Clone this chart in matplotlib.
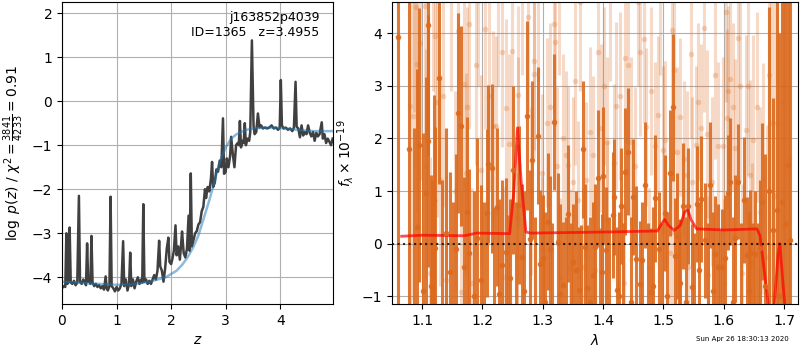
'''
Redshift fit summary: log p(z) and the 1D grism spectrum with best-fit model
'''

import numpy as np
from matplotlib import pyplot as plt

# --- p(z) curve ---
zgrid = [0.00, 0.03, 0.06, 0.08, 0.10, 0.12, 0.14, 0.16, 0.19, 0.22, 0.25, 0.28, 0.31, 0.33,
         0.36, 0.39, 0.42, 0.44, 0.46, 0.48, 0.50, 0.52, 0.54, 0.56, 0.59, 0.62, 0.65, 0.68,
         0.71, 0.74, 0.77, 0.80, 0.82, 0.84, 0.87, 0.89, 0.91, 0.94, 0.97, 1.00, 1.03, 1.06,
         1.09, 1.12, 1.14, 1.17, 1.20, 1.23, 1.25, 1.27, 1.30, 1.33, 1.36, 1.39, 1.42, 1.45,
         1.47, 1.49, 1.51, 1.54, 1.57, 1.60, 1.63, 1.66, 1.69, 1.72, 1.75, 1.78, 1.80, 1.83,
         1.86, 1.89, 1.92, 1.95, 1.97, 2.00, 2.02, 2.05, 2.08, 2.10, 2.13, 2.16, 2.18, 2.20,
         2.23, 2.26, 2.29, 2.32, 2.34, 2.36, 2.38, 2.41, 2.44, 2.47, 2.50, 2.53, 2.56, 2.59,
         2.62, 2.64, 2.67, 2.70, 2.73, 2.75, 2.77, 2.80, 2.83, 2.86, 2.89, 2.92, 2.95, 2.97,
         3.00, 3.02, 3.05, 3.08, 3.10, 3.13, 3.16, 3.19, 3.22, 3.24, 3.26, 3.28, 3.31, 3.33,
         3.35, 3.37, 3.40, 3.43, 3.45, 3.48, 3.51, 3.53, 3.56, 3.59, 3.62, 3.65, 3.68, 3.72,
         3.76, 3.80, 3.84, 3.88, 3.92, 3.96, 3.99, 4.01, 4.03, 4.06, 4.10, 4.14, 4.18, 4.22,
         4.25, 4.28, 4.30, 4.33, 4.36, 4.39, 4.42, 4.45, 4.48, 4.51, 4.54, 4.57, 4.60, 4.63,
         4.66, 4.69, 4.72, 4.76, 4.78, 4.81, 4.84, 4.87, 4.90, 4.93, 4.96]
logpz = [-4.25, -4.20, -4.22, -3.00, -4.15, -4.10, -2.87, -4.12, -4.15, -4.08, -4.18, -4.12, -2.15, -4.10,
         -4.15, -4.05, -4.12, -4.18, -3.23, -4.10, -4.02, -4.15, -3.06, -4.12, -4.20, -4.15, -4.22, -4.18,
         -4.25, -4.20, -4.28, -3.98, -4.25, -4.30, -4.20, -2.17, -4.20, -4.25, -4.32, -4.22, -4.30, -4.25,
         -4.15, -3.18, -4.20, -4.05, -4.30, -4.15, -3.44, -4.20, -4.05, -4.25, -4.10, -4.00, -4.15, -4.05,
         -4.12, -2.34, -4.10, -4.05, -4.15, -4.08, -4.15, -4.05, -3.95, -4.05, -3.85, -3.17, -3.75, -3.85,
         -4.10, -3.80, -3.35, -3.10, -3.65, -3.70, -3.60, -3.40, -2.82, -3.50, -3.30, -3.60, -3.30, -2.96,
         -3.45, -3.55, -3.35, -2.60, -3.40, -1.64, -3.30, -3.15, -3.00, -2.95, -2.80, -2.75, -2.50, -2.40,
         -2.00, -2.20, -1.95, -2.05, -1.75, -1.38, -1.95, -1.85, -1.55, -1.60, -1.35, -1.50, -0.39, -1.65,
         -1.60, -1.30, -1.50, -1.25, -0.81, -1.20, -1.50, -1.00, -0.95, -1.00, -0.45, -1.05, -0.90, -0.95,
         -0.50, -1.00, -0.85, -0.90, -0.70, 1.38, -0.55, -0.75, -0.70, -0.28, -0.60, -0.55, -0.62, -0.60,
         -0.62, -0.60, -0.55, -0.62, -0.60, -0.65, -0.60, 0.48, -0.55, -0.62, -0.60, -0.65, -0.62, -0.68,
         -0.60, 0.44, -0.58, -0.62, -0.82, -0.55, -0.78, -0.70, -0.75, -0.55, -0.72, -0.80, -0.70, -0.90,
         -0.72, -0.80, -0.75, -0.48, -0.85, -0.75, -0.95, -0.85, -0.92, -1.00, -0.85]

# smoothed envelope of p(z)
zsmooth = [0.0, 0.5, 1.0, 1.3, 1.6, 1.9, 2.1, 2.2, 2.3, 2.4, 2.5, 2.55, 2.6, 2.7, 2.8,
           2.85, 2.9, 3.0, 3.1, 3.2, 3.35, 3.5, 3.7, 3.9, 4.1, 4.3, 4.6, 4.97]
logp_smooth = [-4.10, -4.14, -4.17, -4.16, -4.10, -4.00, -3.85, -3.72, -3.55, -3.33, -3.05, -2.85,
               -2.65, -2.25, -1.80, -1.55, -1.35, -1.05, -0.85, -0.75, -0.66, -0.62, -0.60, -0.60,
               -0.62, -0.65, -0.68, -0.68]

# --- spectrum, first PA ---
wave_a = [1.060, 1.078, 1.092, 1.095, 1.106, 1.109, 1.110, 1.114, 1.120, 1.122, 1.128, 1.146,
          1.156, 1.160, 1.165, 1.170, 1.175, 1.178, 1.197, 1.207, 1.209, 1.215, 1.224, 1.232,
          1.239, 1.246, 1.251, 1.261, 1.265, 1.274, 1.279, 1.282, 1.292, 1.295, 1.301, 1.309,
          1.312, 1.318, 1.325, 1.333, 1.342, 1.350, 1.360, 1.366, 1.370, 1.374, 1.387, 1.392,
          1.398, 1.400, 1.405, 1.416, 1.418, 1.423, 1.430, 1.436, 1.442, 1.450, 1.461, 1.465,
          1.469, 1.479, 1.486, 1.492, 1.503, 1.510, 1.515, 1.519, 1.522, 1.528, 1.533, 1.541,
          1.547, 1.555, 1.563, 1.569, 1.577, 1.586, 1.591, 1.597, 1.602, 1.607, 1.611, 1.619,
          1.624, 1.633, 1.638, 1.644, 1.652, 1.660, 1.664, 1.682, 1.688, 1.696, 1.702, 1.710,
          # pixels sitting near or below the lower limit
          1.086, 1.101, 1.117, 1.133, 1.139, 1.151, 1.186, 1.191, 1.202, 1.219, 1.228, 1.242,
          1.256, 1.269, 1.287, 1.304, 1.315, 1.329, 1.338, 1.346, 1.355, 1.363, 1.378, 1.383,
          1.395, 1.410, 1.427, 1.433, 1.446, 1.455, 1.474, 1.482, 1.497, 1.506, 1.525, 1.537,
          1.551, 1.559, 1.573, 1.582, 1.594, 1.615, 1.628, 1.641, 1.648, 1.656, 1.668, 1.675,
          1.692, 1.706]
flux_a = [3.92, 1.80, 0.31, 1.88, 0.96, 1.95, 4.16, -0.80, 0.83, -0.09, 3.14, -0.53,
          -0.10, 2.48, 2.23, -0.44, 0.61, -0.18, -0.69, 0.58, 1.51, 1.43, 0.70, -0.40,
          -0.15, -0.66, 1.40, 0.74, -0.26, 2.43, 0.09, 1.59, 2.05, -0.38, -0.28, 0.42,
          -0.11, 2.31, 0.04, -0.78, 0.57, -0.34, -0.88, 1.79, -0.07, -0.85, -0.07, 1.24,
          -0.53, 1.29, -0.13, 0.55, 0.89, -0.89, 0.71, 1.37, 1.75, 0.89, -0.77, -0.31,
          1.12, -0.91, 0.86, -0.11, 0.58, 1.34, 2.59, -0.23, 0.15, -0.74, 0.72, 0.72,
          -0.82, 0.76, 0.85, 0.06, 1.12, -0.20, -0.44, -0.44, -0.28, 0.97, 1.18, 0.10,
          1.18, 0.83, -0.21, -0.18, -0.20, -0.09, 0.80, 0.26, 0.63, 0.80, 0.38, 0.06,
          -1.30, -0.90, -1.40, -1.20, 0.20, -1.30, -1.00, 0.10, -1.40, -1.20, -0.95, -1.35,
          -1.20, -0.90, -1.30, -1.10, -1.40, -0.95, -1.30, -1.20, -0.50, -1.35, -1.10, -0.60,
          -1.30, -1.20, -1.00, -1.30, -1.10, -0.30, -1.20, -0.80, -1.30, -1.00, -1.25, -1.10,
          -1.30, -0.50, -1.20, -0.90, -1.35, -1.10, -1.30, -0.90, -1.20, -1.40, -0.80, 1.00,
          -1.00, 1.50]
err_a = [9.0, 6.0, 3.0, 2.6, 2.2, 2.4, 2.5, 2.1, 2.0, 2.3, 2.0, 1.9,
         1.8, 1.9, 1.9, 1.7, 1.8, 1.6, 1.8, 1.6, 1.5, 1.6, 1.5, 1.6,
         1.4, 1.5, 1.6, 1.5, 1.4, 1.8, 1.3, 1.5, 1.3, 1.4, 1.2, 1.3,
         1.4, 1.3, 1.3, 1.2, 1.3, 1.1, 1.2, 1.3, 1.2, 1.2, 1.2, 1.3,
         1.1, 1.3, 1.2, 1.2, 1.1, 1.2, 1.1, 1.2, 1.2, 1.1, 1.2, 1.1,
         1.2, 1.2, 1.2, 1.1, 1.1, 1.2, 1.4, 1.1, 1.2, 1.2, 1.2, 1.1,
         1.2, 1.1, 1.2, 1.1, 1.2, 1.1, 1.2, 1.1, 1.2, 1.1, 1.2, 1.2,
         1.1, 1.2, 1.1, 1.2, 1.2, 1.3, 1.5, 2.5, 4.0, 7.0, 9.0, 9.0,
         3.5, 3.0, 2.6, 2.4, 2.0, 2.1, 2.0, 1.9, 2.2, 1.9, 1.8, 1.9,
         2.0, 1.9, 1.8, 1.7, 1.8, 1.7, 1.8, 1.6, 1.5, 1.7, 1.6, 1.4,
         1.6, 1.7, 1.6, 1.7, 1.6, 1.4, 1.6, 1.5, 1.7, 1.6, 1.7, 1.6,
         1.5, 1.3, 1.6, 1.5, 1.6, 1.6, 1.7, 1.5, 1.6, 1.8, 2.5, 3.5,
         5.0, 8.0]

# --- spectrum, second PA ---
wave_b = [1.080, 1.084, 1.090, 1.092, 1.097, 1.104, 1.113, 1.122, 1.125, 1.134, 1.140, 1.160,
          1.165, 1.169, 1.172, 1.178, 1.183, 1.189, 1.198, 1.204, 1.218, 1.223, 1.232, 1.235,
          1.239, 1.249, 1.257, 1.257, 1.259, 1.259, 1.276, 1.285, 1.286, 1.298, 1.298, 1.307,
          1.318, 1.320, 1.323, 1.329, 1.339, 1.342, 1.345, 1.350, 1.359, 1.367, 1.378, 1.383,
          1.386, 1.392, 1.401, 1.406, 1.406, 1.418, 1.422, 1.434, 1.436, 1.442, 1.447, 1.453,
          1.461, 1.467, 1.471, 1.476, 1.486, 1.491, 1.500, 1.503, 1.511, 1.514, 1.515, 1.522,
          1.534, 1.539, 1.541, 1.547, 1.554, 1.562, 1.572, 1.573, 1.580, 1.591, 1.599, 1.600,
          1.606, 1.607, 1.610, 1.619, 1.627, 1.631, 1.637, 1.644, 1.646, 1.649, 1.665, 1.671,
          1.679, 1.688, 1.696, 1.703,
          1.087, 1.107, 1.118, 1.130, 1.148, 1.155, 1.175, 1.193, 1.210, 1.226, 1.244, 1.265,
          1.280, 1.292, 1.312, 1.327, 1.334, 1.354, 1.362, 1.372, 1.396, 1.412, 1.428, 1.457,
          1.479, 1.495, 1.518, 1.528, 1.545, 1.558, 1.568, 1.585, 1.603, 1.615, 1.623, 1.640,
          1.655, 1.660, 1.675, 1.684, 1.700, 1.708]
flux_b = [2.62, 2.43, 4.50, 3.42, 3.81, 4.52, -0.56, 3.94, 2.70, 2.80, -0.69, 4.05,
          -0.91, 3.04, 1.34, 4.18, -0.75, 3.40, 1.40, 4.08, 2.24, 2.24, 3.64, -0.63,
          2.57, 3.66, -0.25, 0.48, 2.82, 1.94, 4.30, 3.22, 3.48, 1.34, -0.31, 2.30,
          4.18, 3.83, 1.47, -0.63, 1.69, 1.50, -0.47, 1.18, 0.83, -0.44, 2.13, 1.69,
          -0.50, 3.64, 3.00, 1.94, 0.45, 1.53, 2.61, -0.75, 3.52, 3.40, 1.94, 1.47,
          3.64, 3.89, 2.21, -0.44, 1.85, 2.45, 1.78, 1.97, -0.18, 4.06, 0.23, 1.75,
          1.60, 1.31, -0.44, 1.18, 1.88, 2.19, 2.08, -0.60, 1.18, 1.85, 1.85, -0.75,
          2.38, 2.91, 3.13, 1.81, 2.99, -0.56, 2.16, 1.31, -0.37, 1.97, 1.24, -0.25,
          2.29, 2.29, 2.70, 0.38,
          5.00, 1.50, 5.20, 1.20, 4.90, 1.00, 2.60, 4.80, 2.80, 4.70, 1.90, 4.90,
          1.00, 4.80, 2.60, 4.90, 2.00, 3.10, 4.60, 1.20, 2.20, 4.70, 2.80, 4.60,
          2.90, 4.80, 3.30, 2.40, 3.60, 2.70, 4.10, 3.20, 4.40, 2.60, 3.90, 3.00,
          2.60, 0.60, 3.20, 0.90, 3.00, 1.60]
err_b = [4.0, 3.5, 3.0, 2.8, 2.6, 2.5, 2.2, 2.3, 2.2, 2.1, 2.0, 2.1,
         1.9, 2.0, 1.9, 2.0, 1.8, 1.9, 1.8, 1.9, 1.8, 1.7, 1.8, 1.7,
         1.7, 1.8, 1.6, 1.7, 1.7, 1.6, 1.8, 1.6, 1.7, 1.5, 1.6, 1.6,
         1.7, 1.6, 1.5, 1.5, 1.6, 1.5, 1.5, 1.6, 1.5, 1.5, 1.6, 1.5,
         1.5, 1.6, 1.5, 1.6, 1.5, 1.5, 1.6, 1.5, 1.6, 1.5, 1.6, 1.5,
         1.6, 1.6, 1.5, 1.5, 1.6, 1.5, 1.6, 1.5, 1.5, 1.7, 1.5, 1.6,
         1.5, 1.6, 1.5, 1.6, 1.5, 1.6, 1.6, 1.5, 1.6, 1.6, 1.7, 1.6,
         1.7, 1.6, 1.7, 1.7, 1.8, 1.7, 1.8, 1.8, 1.9, 2.0, 2.2, 2.5,
         3.5, 4.5, 5.5, 6.5,
         2.5, 2.2, 2.3, 2.0, 2.0, 1.9, 1.9, 1.8, 1.8, 1.7, 1.7, 1.7,
         1.6, 1.7, 1.6, 1.7, 1.6, 1.6, 1.7, 1.5, 1.6, 1.6, 1.6, 1.6,
         1.6, 1.6, 1.6, 1.5, 1.6, 1.5, 1.6, 1.6, 1.7, 1.6, 1.7, 1.7,
         1.8, 2.0, 3.0, 4.0, 6.0, 7.0]

# --- best-fit model ---
wave_model = [1.066, 1.10, 1.17, 1.19, 1.245, 1.252, 1.258, 1.264, 1.272, 1.28, 1.40, 1.49,
              1.497, 1.502, 1.508, 1.518, 1.528, 1.535, 1.540, 1.546, 1.555, 1.60, 1.655,
              1.660, 1.668, 1.675, 1.683, 1.690, 1.693, 1.697, 1.702]
flux_model = [0.14, 0.16, 0.15, 0.20, 0.19, 1.00, 2.20, 1.20, 0.22, 0.20, 0.22, 0.24,
              0.38, 0.46, 0.35, 0.25, 0.35, 0.60, 0.65, 0.45, 0.28, 0.26, 0.28,
              0.15, -0.60, -1.30, -1.25, -0.20, 0.00, -0.60, -1.30]

col = '#dc6a1e'

fig = plt.figure(figsize=(8, 3.5), dpi=100)
ax1 = fig.add_axes([0.0775, 0.131, 0.339, 0.863])
ax2 = fig.add_axes([0.49, 0.131, 0.5075, 0.863])

ax1.plot(zgrid, logpz, color='0.25', lw=1.8)
ax1.plot(zsmooth, logp_smooth, color='tab:blue', alpha=0.5, lw=1.8)
ax1.set_xlim(0, 4.97)
ax1.set_ylim(-4.61, 2.25)
ax1.set_xlabel(r'$z$', size=10)
ax1.set_ylabel(r'$\log\ p(z)$ / $\chi^2=\frac{3841}{4233}=0.91$', size=10)
ax1.text(0.95, 0.97, 'j163852p4039\nID=1365   z=3.4955', transform=ax1.transAxes,
         ha='right', va='top', fontsize=9)
ax1.grid()

ax2.errorbar(wave_b, flux_b, err_b, marker='o', ms=4, linestyle='None',
             color=col, alpha=0.25, elinewidth=2.2, mec='none')
ax2.errorbar(wave_a, flux_a, err_a, marker='o', ms=4, linestyle='None',
             color=col, alpha=0.9, elinewidth=2.2, mec='none')
ax2.plot(wave_model, flux_model, color='red', alpha=0.7, lw=2)
ax2.axhline(0, color='k', linestyle=':', lw=1.5, alpha=0.8)
ax2.set_xlim(1.05, 1.723)
ax2.set_ylim(-1.15, 4.59)
ax2.set_xlabel(r'$\lambda$', size=10)
ax2.set_ylabel(r'$f_\lambda\times10^{-19}$', size=10)
ax2.grid()

fig.text(0.87, 0.025, 'Sun Apr 26 18:30:13 2020', fontsize=5)

plt.savefig('out.png')
